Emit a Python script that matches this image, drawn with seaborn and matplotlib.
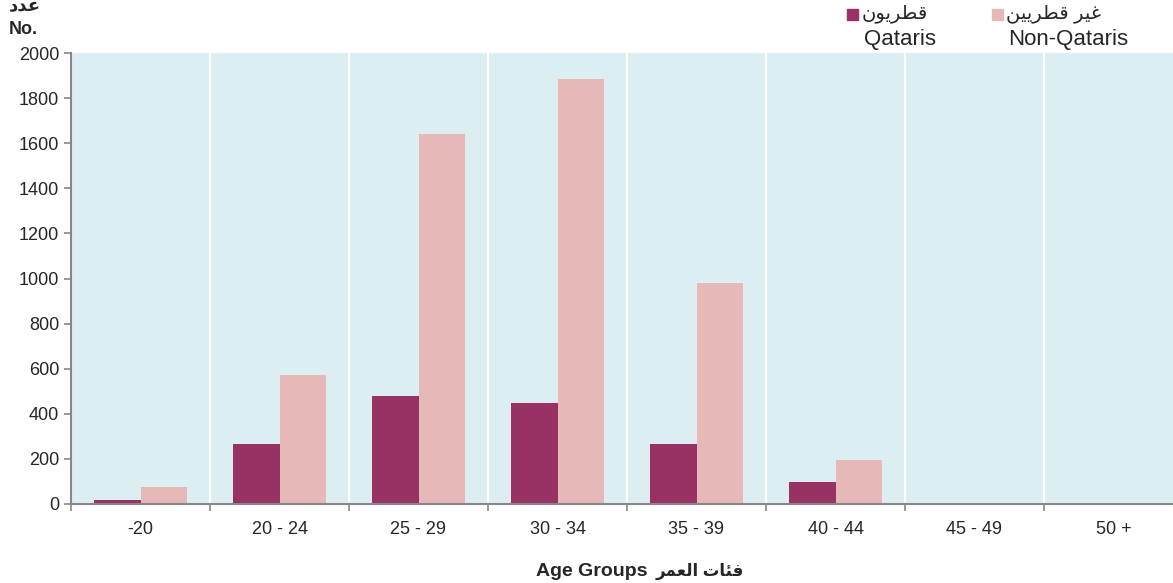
import numpy as np
import pandas as pd
import seaborn as sns
import matplotlib.pyplot as plt
from matplotlib.ticker import FixedLocator

# data
age_groups = ["-20", "20 - 24", "25 - 29", "30 - 34", "35 - 39", "40 - 44", "45 - 49", "50 +"]
qataris = [18, 266, 479, 448, 266, 98, 0, 0]
non_qataris = [75, 572, 1641, 1885, 980, 195, 6, 0]

# Arabic labels written in presentation forms, visual order (matplotlib does no shaping)
ar_no = "\uFEA9\uFEAA\uFECB"                                   # عدد
ar_qatari = "\uFEE5\uFEEE\uFEF3\uFEAE\uFEC4\uFED7"             # قطريون
ar_non_qatari = "\uFEE6\uFEF4\uFEF3\uFEAE\uFEC4\uFED7 \uFEAE\uFEF4\uFECF"  # غير قطريين
ar_age = "\uFEAE\uFEE4\uFECC\uFEDF\uFE8D \uFE95\uFE8E\uFE8C\uFED3"        # فئات العمر

df = pd.DataFrame({
    "age": age_groups * 2,
    "count": qataris + non_qataris,
    "group": ["Qataris"] * len(age_groups) + ["Non-Qataris"] * len(age_groups),
})

sns.set_style("white")
plt.rcParams['font.family'] = ['Liberation Sans', 'DejaVu Sans']

W, H = 1173, 583
fig = plt.figure(figsize=(W / 100, H / 100), dpi=100)
left, right, top, bottom = 71, 1183, 53, 504
ax = fig.add_axes([left / W, (H - bottom) / H, (right - left) / W, (bottom - top) / H])
ax.set_facecolor("#DDEEF3")

colors = {"Qataris": "#993264", "Non-Qataris": "#E6B8B7"}
sns.barplot(data=df, x="age", y="count", hue="group", palette=colors, saturation=1,
            width=0.67, linewidth=0, ax=ax, legend=False)

ax.set_xlim(-0.5, len(age_groups) - 0.5)
ax.set_ylim(0, 2000)
ax.set_yticks(np.arange(0, 2001, 200))
ax.tick_params(axis="y", labelsize=13, length=5, width=1.2, color="#888888", direction="out", left=True)
ax.tick_params(axis="x", which="major", labelsize=13, length=0, pad=12)
ax.xaxis.set_minor_locator(FixedLocator(np.arange(-0.5, len(age_groups), 1)))
ax.tick_params(axis="x", which="minor", length=5, width=1.2, color="#888888", direction="out", bottom=True)
ax.grid(False)
ax.grid(True, axis="x", which="minor", color="white", linewidth=1.5)
ax.set_axisbelow(True)

for s in ["top", "right"]:
    ax.spines[s].set_visible(False)
for s in ["left", "bottom"]:
    ax.spines[s].set_color("#888888")
    ax.spines[s].set_linewidth(1.5)

ax.set_xlabel("")
ax.set_ylabel("")

# y-axis unit label
fig.text(9 / W, 1 - 7 / H, ar_no, fontsize=13, fontweight="bold", ha="left", va="center")
fig.text(9 / W, 1 - 30 / H, "No.", fontsize=13, fontweight="bold", ha="left", va="center")

# x-axis title
fig.text(648 / W, 1 - 572 / H, "Age Groups", fontsize=14, fontweight="bold",
         ha="right", va="center")
fig.text(656 / W, 1 - 571 / H, ar_age, fontsize=12, fontweight="bold",
         ha="left", va="center")

# legend
fig.patches.append(plt.Rectangle((847 / W, 1 - 20 / H), 11 / W, 11 / H,
                                 transform=fig.transFigure, color=colors["Qataris"]))
fig.text(862 / W, 1 - 14 / H, ar_qatari, fontsize=14, ha="left", va="center")
fig.text(864 / W, 1 - 40 / H, "Qataris", fontsize=16, ha="left", va="center")
fig.patches.append(plt.Rectangle((992 / W, 1 - 20 / H), 11 / W, 11 / H,
                                 transform=fig.transFigure, color=colors["Non-Qataris"]))
fig.text(1006 / W, 1 - 14 / H, ar_non_qatari, fontsize=14, ha="left", va="center")
fig.text(1008 / W, 1 - 40 / H, "Non-Qataris", fontsize=16, ha="left", va="center")

fig.savefig("out.png", dpi=100)
